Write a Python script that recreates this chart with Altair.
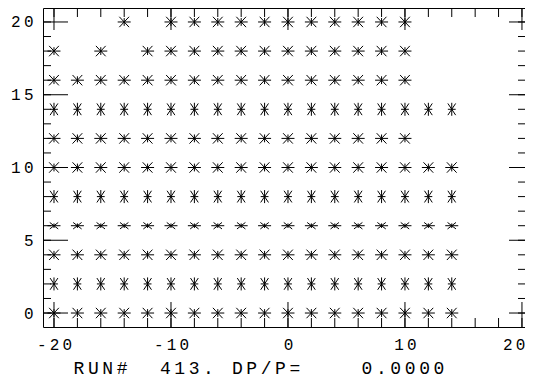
import altair as alt
import pandas as pd

# ---- data ----
row_y = [20, 18, 16, 14, 12, 10, 8, 6, 4, 2, 0]
row_x = [
    [-14, -10, -8, -6, -4, -2, 0, 2, 4, 6, 8, 10],
    [-20, -16, -12, -10, -8, -6, -4, -2, 0, 2, 4, 6, 8, 10],
    [-20, -18, -16, -14, -12, -10, -8, -6, -4, -2, 0, 2, 4, 6, 8, 10],
    [-20, -18, -16, -14, -12, -10, -8, -6, -4, -2, 0, 2, 4, 6, 8, 10, 12, 14],
    [-20, -18, -16, -14, -12, -10, -8, -6, -4, -2, 0, 2, 4, 6, 8, 10],
    [-20, -18, -16, -14, -12, -10, -8, -6, -4, -2, 0, 2, 4, 6, 8, 10, 12, 14],
    [-20, -18, -16, -14, -12, -10, -8, -6, -4, -2, 0, 2, 4, 6, 8, 10, 12, 14],
    [-20, -18, -16, -14, -12, -10, -8, -6, -4, -2, 0, 2, 4, 6, 8, 10, 12, 14],
    [-20, -18, -16, -14, -12, -10, -8, -6, -4, -2, 0, 2, 4, 6, 8, 10, 12, 14],
    [-20, -18, -16, -14, -12, -10, -8, -6, -4, -2, 0, 2, 4, 6, 8, 10, 12, 14],
    [-20, -18, -16, -14, -12, -10, -8, -6, -4, -2, 0, 2, 4, 6, 8, 10, 12, 14],
]
row_style = ["star", "star", "star", "tall", "star", "star", "tall", "flat", "star", "tall", "star"]

x_major = [-20, -10, 0, 10, 20]
x_major_text = ["-20", "-10", "0", "10", "20"]
x_minor = [-20, -18, -16, -14, -12, -10, -8, -6, -4, -2, 0, 2, 4, 6, 8, 10, 12, 14, 16, 18, 20]
y_major = [0, 5, 10, 15, 20]
y_major_text = ["0", "5", "10", "15", "20"]
y_minor = [0, 1, 2, 3, 4, 5, 6, 7, 8, 9, 10, 11, 12, 13, 14, 15, 16, 17, 18, 19, 20]
run_title = "RUN#  413. DP/P=    0.0000"

# ---- build table ----
rows = []
for yv, xl, st in zip(row_y, row_x, row_style):
    for xv in xl:
        rows.append({"x": xv, "y": yv, "style": st})
df = pd.DataFrame(rows)

SP = "\u2009"
def spaced(s):
    return SP.join(list(s))

def label_expr(vals, texts):
    e = "''"
    for v, t in reversed(list(zip(vals, texts))):
        e = f"datum.value == {v} ? '{spaced(t)}' : {e}"
    return e

W, H = 482, 319
FONT = "Liberation Mono"

xs = alt.Scale(domain=[-20.94, 20.26], nice=False, zero=False)
ys = alt.Scale(domain=[-0.96, 20.96], nice=False, zero=False)

last_x = x_major[-1]
xaxis = alt.Axis(values=x_major, labelExpr=label_expr(x_major, x_major_text),
                 ticks=False, tickSize=0, domain=False, grid=False,
                 labelFont=FONT, labelFontSize=16, labelColor="black",
                 labelPadding=9, labelFlush=False, labelOverlap=False,
                 labelAlign={"condition": {"test": f"datum.value == {last_x}", "value": "right"},
                             "value": "center"},
                 labelOffset={"condition": {"test": f"datum.value == {last_x}", "value": 3},
                              "value": 0},
                 title=spaced(run_title), titleFont=FONT, titleFontSize=18,
                 titleFontWeight="normal", titleColor="black",
                 titleX=30, titleY=46, titleAlign="left", titleAnchor="start",
                 titleBaseline="alphabetic")
yaxis = alt.Axis(values=y_major, labelExpr=label_expr(y_major, y_major_text),
                 ticks=False, tickSize=0, domain=False, grid=False,
                 labelFont=FONT, labelFontSize=16, labelColor="black",
                 labelPadding=10, labelFlush=False, labelOverlap=False, title=None)

paths = {
    "star": "M-1,0L1,0M-0.75,-0.8L0.75,0.8M-0.75,0.8L0.75,-0.8M0,-0.6L0,0.6",
    "tall": "M-0.6,0L0.6,0M-0.6,-0.9L0.6,0.9M-0.6,0.9L0.6,-0.9M0,-1L0,1",
    "flat": "M-1,0L1,0M-0.65,-0.5L0.65,0.5M-0.65,0.5L0.65,-0.5M0,-0.35L0,0.35",
}

points = alt.Chart(df).mark_point(filled=False, stroke="black", strokeWidth=1,
                                  size=169, opacity=1).encode(
    x=alt.X("x:Q", scale=xs, axis=xaxis),
    y=alt.Y("y:Q", scale=ys, axis=yaxis),
    shape=alt.Shape("style:N", scale=alt.Scale(domain=list(paths.keys()),
                                               range=list(paths.values())), legend=None),
)

def xrule(vals, y0, y1):
    return alt.Chart(pd.DataFrame({"x": vals})).mark_rule(color="black", strokeWidth=1).encode(
        x=alt.X("x:Q", scale=xs, axis=xaxis), y=alt.value(y0), y2=alt.value(y1))

def yrule(vals, x0, x1):
    return alt.Chart(pd.DataFrame({"y": vals})).mark_rule(color="black", strokeWidth=1).encode(
        y=alt.Y("y:Q", scale=ys, axis=yaxis), x=alt.value(x0), x2=alt.value(x1))

chart = alt.layer(
    xrule(x_minor, H, H - 9),
    xrule(x_major, H, H - 25),
    xrule(x_minor, 0, 9),
    xrule(x_major, 0, 22),
    yrule(y_minor, 0, 8),
    yrule(y_major, 0, 25),
    yrule(y_minor, W, W - 7),
    yrule(y_major, W, W - 16),
    points,
).properties(
    width=W, height=H,
    autosize=alt.AutoSizeParams(type="none"),
    padding={"left": 35, "top": 0, "right": 0, "bottom": 59},
).configure_view(stroke="black", strokeWidth=1)

chart.save("out.html", embed_options={"renderer": "svg", "actions": False})
